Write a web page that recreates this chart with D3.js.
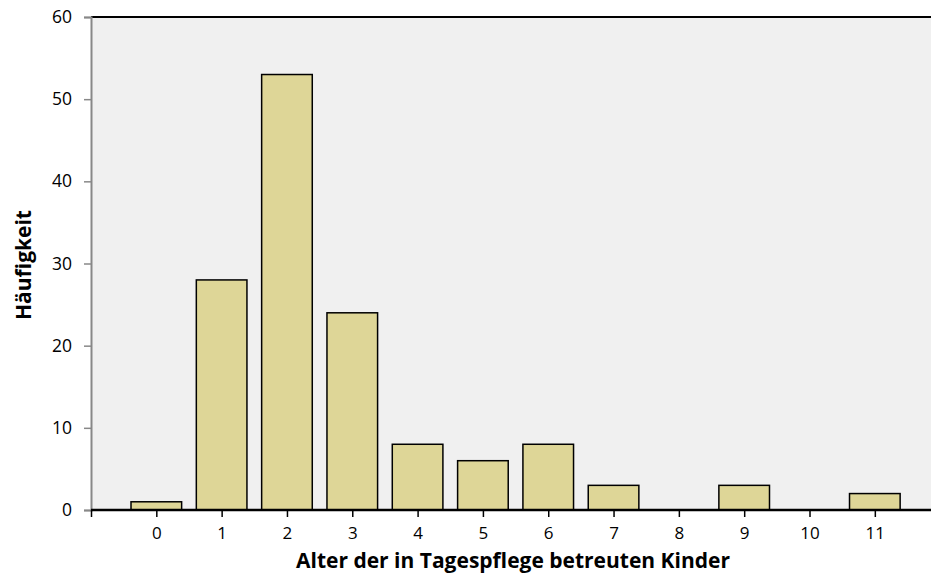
<!DOCTYPE html>
<html>
<head>
    <meta charset="utf-8">
    <script src="https://d3js.org/d3.v7.min.js"></script>
    <style>
        body { margin: 0; background: #fff; }
        svg text { font-family: "Open Sans", "Noto Sans", sans-serif; fill: #000; }
        .axis-title { font-weight: bold; font-size: 21px; }
    </style>
    <title>Alter der in Tagespflege betreuten Kinder</title>
</head>
<body>
    <svg width="931" height="576"></svg>
    <script>
        // data
        var ages = [0, 1, 2, 3, 4, 5, 6, 7, 8, 9, 10, 11];
        var counts = [1, 28, 53, 24, 8, 6, 8, 3, 0, 3, 0, 2];
        var yTicks = [0, 10, 20, 30, 40, 50, 60];

        var svg = d3.select("svg");
        var plotLeft = 91, plotRight = 931, plotTop = 17, plotBottom = 510;

        var x = d3.scaleLinear().domain([-1, 11.86]).range([plotLeft, plotRight]);
        var y = d3.scaleLinear().domain([0, 60]).range([plotBottom, plotTop]);
        var step = x(1) - x(0);
        var barW = step * 0.775;

        // plot background
        svg.append("rect")
            .attr("x", plotLeft).attr("y", plotTop)
            .attr("width", plotRight - plotLeft).attr("height", plotBottom - plotTop)
            .attr("fill", "#f0f0f0");

        // top border
        svg.append("line")
            .attr("x1", plotLeft).attr("x2", plotRight)
            .attr("y1", plotTop).attr("y2", plotTop)
            .attr("stroke", "#000").attr("stroke-width", 2);

        // bars
        svg.selectAll(".bar")
            .data(ages.filter(function (d, i) { return counts[i] > 0; }))
            .enter()
            .append("rect")
            .attr("class", "bar")
            .attr("x", function (d) { return x(d) - barW / 2; })
            .attr("y", function (d) { return y(counts[d]); })
            .attr("width", barW)
            .attr("height", function (d) { return y(0) - y(counts[d]); })
            .attr("fill", "#ded697")
            .attr("stroke", "#000")
            .attr("stroke-width", 1.5);

        // y axis
        var yAxis = svg.append("g")
            .attr("transform", "translate(" + plotLeft + ",0)")
            .call(d3.axisLeft(y).tickValues(yTicks).tickSize(7).tickPadding(12));
        yAxis.select(".domain").attr("stroke", "#888").attr("stroke-width", 2);
        yAxis.selectAll(".tick line").attr("stroke", "#888").attr("stroke-width", 1.5);
        yAxis.selectAll("text").attr("font-size", "17.5px").attr("font-family", null);

        // x axis
        var xAxis = svg.append("g")
            .attr("transform", "translate(0," + plotBottom + ")")
            .call(d3.axisBottom(x).tickValues([-1].concat(ages)).tickSize(7).tickPadding(10)
                .tickFormat(function (d) { return d < 0 ? "" : d; }));
        xAxis.select(".domain").attr("stroke", "#000").attr("stroke-width", 2.5)
            .attr("d", "M" + plotLeft + ",0H" + plotRight);
        xAxis.selectAll(".tick line").attr("stroke", "#000").attr("stroke-width", 1.5);
        xAxis.selectAll("text").attr("font-size", "17px").attr("font-family", null);

        // axis titles
        svg.append("text")
            .attr("class", "axis-title")
            .attr("x", (plotLeft + plotRight) / 2 + 2)
            .attr("y", 568)
            .attr("text-anchor", "middle")
            .text("Alter der in Tagespflege betreuten Kinder");

        svg.append("text")
            .attr("class", "axis-title")
            .attr("transform", "translate(31,265) rotate(-90)")
            .attr("text-anchor", "middle")
            .text("Häufigkeit");
    </script>
</body>
</html>
